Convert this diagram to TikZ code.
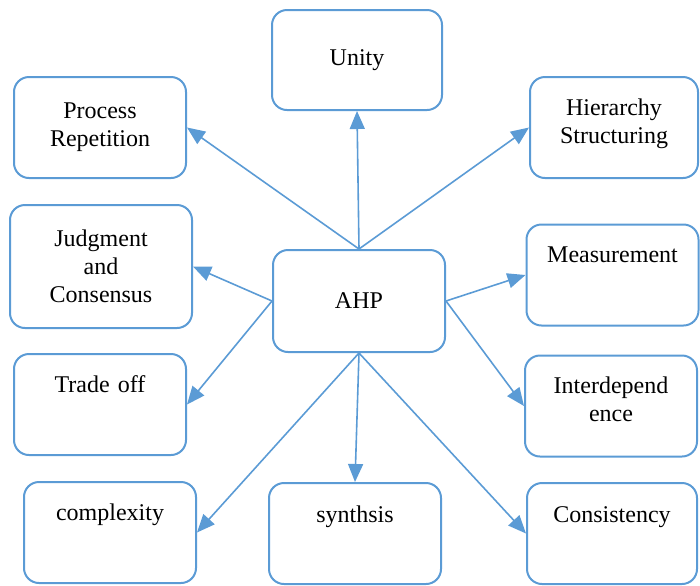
\documentclass[tikz,border=0pt]{standalone}
\usepackage{fontspec}
\setmainfont{Liberation Serif}
\usetikzlibrary{arrows.meta}
\definecolor{ahpblue}{RGB}{91,155,213}

\begin{document}
\begin{tikzpicture}[x=0.5pt,y=-0.5pt,
  item/.style={draw=ahpblue,line width=1pt,rectangle,rounded corners=7.5pt,inner sep=0pt,
    text width=80pt,align=center,minimum width=86pt,minimum height=50.5pt,
    font=\fontsize{12}{14}\selectfont},
  toptext/.style={text height=19pt,text depth=31.5pt},
  link/.style={color=ahpblue,line width=0.8pt,-{Triangle[length=9pt,width=7.5pt]}}]

\useasboundingbox (0,0) rectangle (700,585);

\node (ahp) at (359,301) [item,minimum height=51pt] {AHP};

\node (unity) at (357,60) [item,minimum width=85pt,minimum height=50pt] {Unity};
\node (proc) at (100,127.5) [item] {Process\\Repetition};
\node (hier) at (614,127.5) [item,toptext,minimum width=84pt] {Hierarchy\\Structuring};
\node (judg) at (101,266.5) [item,minimum width=91pt,minimum height=61.5pt] {Judgment\\and\\Consensus};
\node (meas) at (612.5,275) [item,toptext] {Measurement};
\node (trade) at (100,404.5) [item,toptext] {Trade off};
\node (inter) at (611,406) [item,toptext] {Interdepend\\ence};
\node (compl) at (110,532.5) [item,toptext] {complexity};
\node (synth) at (355,533.5) [item,toptext,text depth=30.5pt] {synthsis};
\node (cons) at (612,533.5) [item,toptext,minimum width=85pt,text depth=30.5pt] {Consistency};

\path [link] (ahp.north) edge (unity.south) (ahp.north) edge (proc.east) (ahp.north) edge (hier.west)
  (ahp.west) edge (judg.east) (ahp.west) edge (trade.east)
  (ahp.east) edge (meas.west) (ahp.east) edge (inter.west)
  (ahp.south) edge (compl.east) (ahp.south) edge (synth.north) (ahp.south) edge (cons.west);

\end{tikzpicture}
\end{document}
